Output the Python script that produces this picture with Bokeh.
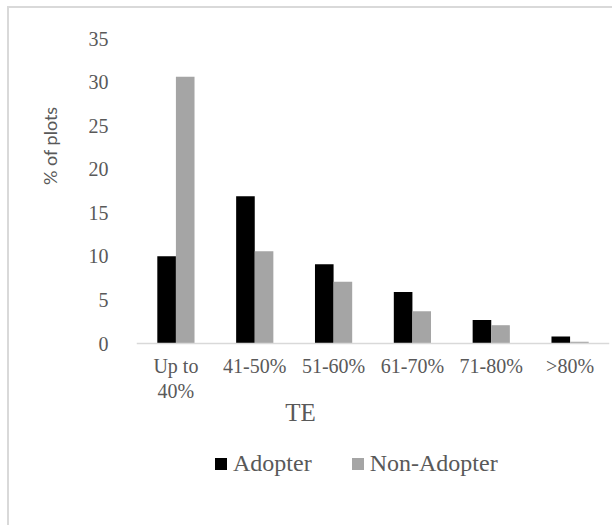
from bokeh.plotting import figure
from bokeh.models import (ColumnDataSource, FactorRange, Range1d, FixedTicker,
                          Legend, LegendItem, Label, Span, Title)
from bokeh.core.properties import value
from bokeh.transform import dodge
from bokeh.embed import file_html
from bokeh.resources import INLINE

# TE classes and share of plots (%) for each group
categories = ["Up to\n40%", "41-50%", "51-60%", "61-70%", "71-80%", ">80%"]
adopter = [10.0, 16.9, 9.1, 5.9, 2.7, 0.8]
non_adopter = [30.6, 10.6, 7.1, 3.7, 2.1, 0.2]
y_ticks = [0, 5, 10, 15, 20, 25, 30, 35]

TEXT = "#595959"
SERIF = "Liberation Serif"

# the plot frame runs from the top of the value axis down to the bottom edge,
# leaving room under zero for the class labels, the axis title and the legend
BAR_PX = 305      # height of the 0..35 band in pixels
BELOW_PX = 182    # room under the zero line
y_max = 35
y_min = -y_max * BELOW_PX / BAR_PX

source = ColumnDataSource(dict(cat=categories, adopter=adopter, non=non_adopter))

p = figure(
    x_range=FactorRange(*categories, range_padding=0),
    y_range=Range1d(y_min, y_max),
    width=603, height=517,
    min_border_left=127, min_border_right=3,
    min_border_top=30, min_border_bottom=0,
    output_backend="svg", toolbar_location=None,
)
p.margin = (8, 0, 0, 9)
p.styles = {"outline": "2px solid #d9d9d9"}
p.outline_line_color = None
p.background_fill_color = "white"
p.border_fill_color = "white"
p.xgrid.visible = False
p.ygrid.visible = False
p.xaxis.visible = False

bw = 0.236
r_ad = p.vbar(x=dodge("cat", -bw / 2, range=p.x_range), top="adopter", width=bw,
              source=source, fill_color="#000000", line_color=None)
r_non = p.vbar(x=dodge("cat", bw / 2, range=p.x_range), top="non", width=bw,
               source=source, fill_color="#a5a5a5", line_color=None)

# category baseline at zero
p.add_layout(Span(location=0, dimension="width", line_color="#d9d9d9", line_width=1.5))

# class labels under the baseline
p.text(x="cat", y=0, text="cat", source=source, y_offset=11,
       text_align="center", text_baseline="top", text_line_height=1.15,
       text_font=value(SERIF), text_font_size="20px", text_color=TEXT)

# y axis: labels only
p.yaxis.ticker = FixedTicker(ticks=y_ticks)
p.yaxis.axis_line_color = None
p.yaxis.major_tick_line_color = None
p.yaxis.minor_tick_line_color = None
p.yaxis.major_label_standoff = 22
p.yaxis.major_label_text_font = SERIF
p.yaxis.major_label_text_font_size = "20px"
p.yaxis.major_label_text_color = TEXT

ytitle = Title(text="% of plots", align="right", offset=68, text_font="Lato",
               text_font_size="18px", text_font_style="normal", text_color=TEXT,
               standoff=50)
p.add_layout(ytitle, "left")

# x axis title
xtitle = Label(text="TE", x=164, y=113, x_units="screen", y_units="screen",
               text_align="center", text_baseline="middle",
               text_font=SERIF, text_font_size="25px", text_color=TEXT)
p.add_layout(xtitle)

legend = Legend(
    items=[LegendItem(label="Adopter", renderers=[r_ad]),
           LegendItem(label="Non-Adopter", renderers=[r_non])],
    orientation="horizontal", location=(77, 48),
    glyph_width=15, glyph_height=15, label_standoff=5, spacing=38,
    padding=0, margin=0,
    label_text_font=SERIF, label_text_font_size="24px", label_text_color=TEXT,
    border_line_color=None, background_fill_alpha=0,
)
p.add_layout(legend)

open("out.html", "w").write(file_html(p, INLINE))
